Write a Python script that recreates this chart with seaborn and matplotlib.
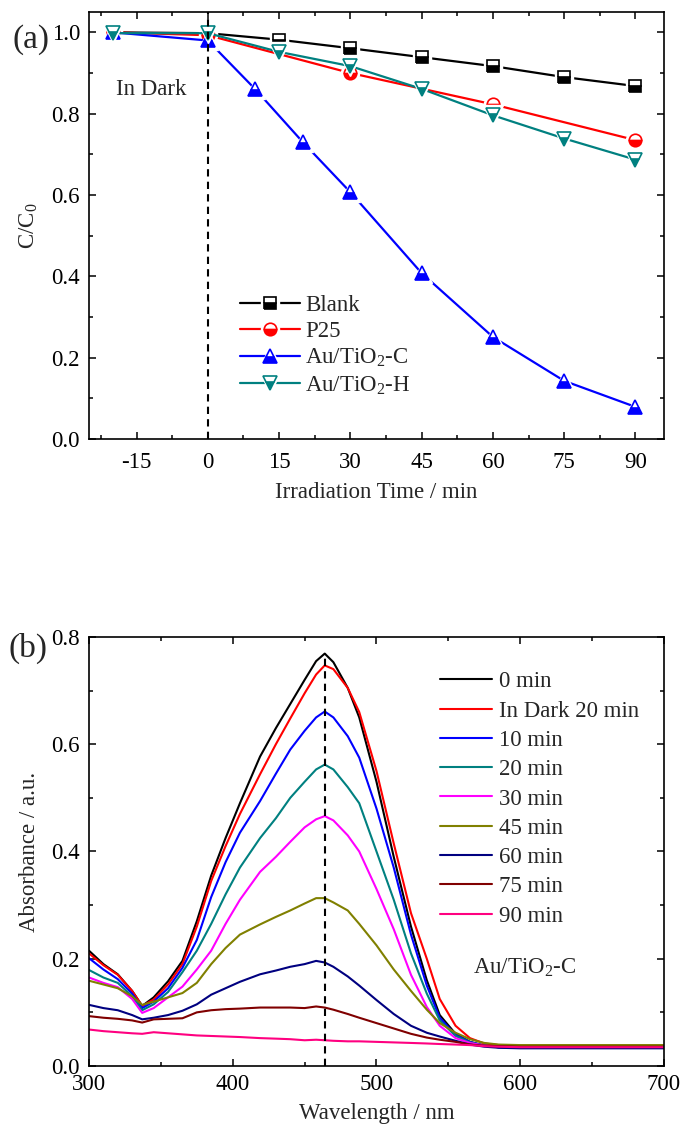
import matplotlib
matplotlib.use("Agg")
import matplotlib.pyplot as plt
import seaborn as sns
from matplotlib.lines import Line2D
from matplotlib.ticker import MultipleLocator

# Panel (a) - degradation over time
time_all = [-20, 0, 15, 30, 45, 60, 75, 90]
time_p25 = [-20, 0, 30, 60, 90]
time_auc = [-20, 0, 10, 20, 30, 45, 60, 75, 90]
blank = [1.0, 0.998, 0.982, 0.961, 0.939, 0.917, 0.890, 0.868]
p25 = [1.0, 0.993, 0.900, 0.823, 0.735]
au_c = [1.0, 0.980, 0.860, 0.730, 0.607, 0.408, 0.251, 0.143, 0.079]
au_h = [0.998, 0.998, 0.952, 0.917, 0.861, 0.796, 0.739, 0.687]
labels_a = ["Blank", "P25", "Au/TiO$_2$-C", "Au/TiO$_2$-H"]
x_ticks_a = [-15, 0, 15, 30, 45, 60, 75, 90]

# Panel (b) - absorbance spectra
wavelength = [300, 310, 320, 330, 337, 345, 355, 365, 375, 385, 395, 405, 419, 430, 440, 450, 458, 464,
              470, 480, 488, 500, 512, 524, 535, 544, 555, 565, 575, 585, 600, 650, 700]
abs_0 = [0.215, 0.19, 0.171, 0.14, 0.112, 0.128, 0.158, 0.196, 0.27, 0.355, 0.425, 0.49, 0.577, 0.63, 0.675, 0.72, 0.755, 0.769,
         0.753, 0.705, 0.65, 0.53, 0.39, 0.26, 0.16, 0.095, 0.06, 0.045, 0.038, 0.035, 0.034, 0.034, 0.034]
abs_dark = [0.21, 0.188, 0.17, 0.14, 0.112, 0.124, 0.152, 0.19, 0.26, 0.345, 0.41, 0.47, 0.544, 0.6, 0.648, 0.695, 0.73, 0.747,
            0.74, 0.705, 0.66, 0.55, 0.415, 0.285, 0.2, 0.125, 0.075, 0.052, 0.042, 0.039, 0.038, 0.038, 0.038]
abs_10 = [0.201, 0.18, 0.162, 0.135, 0.108, 0.12, 0.145, 0.183, 0.235, 0.315, 0.38, 0.435, 0.494, 0.545, 0.59, 0.625, 0.65, 0.661,
          0.65, 0.615, 0.575, 0.48, 0.37, 0.245, 0.15, 0.09, 0.058, 0.045, 0.038, 0.035, 0.034, 0.034, 0.034]
abs_20 = [0.179, 0.165, 0.155, 0.13, 0.104, 0.115, 0.138, 0.175, 0.215, 0.265, 0.32, 0.37, 0.425, 0.462, 0.5, 0.53, 0.553, 0.562,
          0.553, 0.52, 0.49, 0.4, 0.31, 0.21, 0.135, 0.085, 0.056, 0.044, 0.038, 0.036, 0.036, 0.036, 0.036]
abs_30 = [0.165, 0.155, 0.147, 0.125, 0.099, 0.108, 0.128, 0.148, 0.18, 0.215, 0.265, 0.31, 0.362, 0.39, 0.418, 0.445, 0.46, 0.466,
          0.458, 0.43, 0.4, 0.33, 0.255, 0.17, 0.11, 0.075, 0.052, 0.043, 0.038, 0.036, 0.035, 0.035, 0.035]
abs_45 = [0.159, 0.152, 0.145, 0.13, 0.114, 0.12, 0.128, 0.136, 0.155, 0.19, 0.22, 0.245, 0.264, 0.278, 0.29, 0.303, 0.313, 0.313,
          0.305, 0.29, 0.265, 0.225, 0.18, 0.14, 0.105, 0.08, 0.062, 0.05, 0.043, 0.04, 0.039, 0.039, 0.039]
abs_60 = [0.114, 0.108, 0.104, 0.095, 0.087, 0.09, 0.095, 0.103, 0.115, 0.133, 0.145, 0.157, 0.171, 0.178, 0.185, 0.19, 0.196, 0.193,
          0.185, 0.167, 0.15, 0.123, 0.097, 0.075, 0.062, 0.055, 0.047, 0.04, 0.036, 0.034, 0.033, 0.033, 0.033]
abs_75 = [0.093, 0.09, 0.088, 0.085, 0.081, 0.087, 0.088, 0.089, 0.1, 0.104, 0.106, 0.107, 0.109, 0.109, 0.109, 0.108, 0.111, 0.109,
          0.105, 0.097, 0.09, 0.08, 0.07, 0.06, 0.053, 0.049, 0.045, 0.04, 0.038, 0.037, 0.036, 0.036, 0.036]
abs_90 = [0.068, 0.065, 0.063, 0.061, 0.06, 0.063, 0.061, 0.059, 0.057, 0.056, 0.055, 0.054, 0.052, 0.051, 0.05, 0.048, 0.049, 0.048,
          0.047, 0.046, 0.046, 0.045, 0.044, 0.043, 0.042, 0.041, 0.04, 0.039, 0.037, 0.036, 0.035, 0.035, 0.035]
labels_b = ["0 min", "In Dark 20 min", "10 min", "20 min", "30 min", "45 min", "60 min", "75 min", "90 min"]
colors_b = ["#000000", "#FF0000", "#0000FF", "#008080", "#FF00FF", "#808000", "#000080", "#800000", "#FF0080"]

sns.set_theme(style="ticks")
plt.rcParams['font.family'] = ['Liberation Serif', 'DejaVu Serif']
plt.rcParams['mathtext.fontset'] = 'custom'
plt.rcParams['mathtext.rm'] = 'Liberation Serif'
plt.rcParams['mathtext.it'] = 'Liberation Serif:italic'
plt.rcParams['axes.unicode_minus'] = False

FS = 16.5

fig = plt.figure(figsize=(6.81, 11.24), dpi=100)
ax1 = fig.add_axes([0.1307, 0.6094, 0.8443, 0.3799])
ax2 = fig.add_axes([0.1307, 0.0516, 0.8443, 0.3817])


def style_axes(ax, xpad):
    for s in ax.spines.values():
        s.set_linewidth(1.2)
        s.set_color("black")
    ax.tick_params(which="both", direction="in", top=True, right=True,
                   width=1.1, colors="black", labelsize=FS)
    ax.tick_params(axis="y", pad=6.5)
    ax.tick_params(axis="x", pad=xpad)
    ax.tick_params(which="major", length=5)
    ax.tick_params(which="minor", length=3)


# Graph (a)
series = [
    (time_all, blank, "black", "s", 8.5),
    (time_p25, p25, "#FF0000", "o", 9),
    (time_auc, au_c, "#0000FF", "^", 10.5),
    (time_all, au_h, "#008080", "v", 10.5),
]
handles = []
for i, (x, y, c, m, ms) in enumerate(series):
    z = 2 + 3 * i
    sns.lineplot(x=x, y=y, color=c, lw=1.6, ax=ax1, zorder=z)
    ax1.plot(x, y, ls="none", marker=m, ms=ms + 4, mfc="white", mec="white", zorder=z + 1)
    ax1.plot(x, y, ls="none", marker=m, ms=ms, fillstyle="bottom", mfc=c,
             markerfacecoloralt="white", mec=c, mew=1.2, zorder=z + 2)
    h_line = Line2D([], [], color=c, lw=1.6)
    h_gap = Line2D([], [], ls="none", marker=m, ms=ms + 4, mfc="white", mec="white")
    h_mark = Line2D([], [], ls="none", marker=m, ms=ms, fillstyle="bottom", mfc=c,
                    markerfacecoloralt="white", mec=c, mew=1.2)
    handles.append((h_line, h_gap, h_mark))

ax1.axvline(0, color="black", lw=1.5, ls=(0, (3.5, 2.5)), zorder=30)
ax1.text(-19.3, 0.86, "In Dark", fontsize=FS, va="center", ha="left")

ax1.set_xlim(-25, 96)
ax1.set_ylim(0, 1.05)
ax1.set_xticks(x_ticks_a)
ax1.xaxis.set_minor_locator(MultipleLocator(7.5))
ax1.yaxis.set_major_locator(MultipleLocator(0.2))
ax1.yaxis.set_minor_locator(MultipleLocator(0.1))
ax1.yaxis.set_major_formatter(matplotlib.ticker.FormatStrFormatter("%.1f"))
style_axes(ax1, 9.5)
ax1.set_xlabel("Irradiation Time / min", fontsize=FS, labelpad=6)
ax1.set_ylabel("C/C$_0$", fontsize=FS)
ax1.yaxis.set_label_coords(-0.085, 0.5)
ax1.legend(handles, labels_a, loc="upper left", bbox_to_anchor=(0.263, 0.338),
           frameon=False, fontsize=FS, handlelength=2.6, handletextpad=0.22,
           labelspacing=0.22, borderpad=0, borderaxespad=0, numpoints=1)

# Graph (b)
spectra = [abs_0, abs_dark, abs_10, abs_20, abs_30, abs_45, abs_60, abs_75, abs_90]
for vals, c, lab in zip(spectra, colors_b, labels_b):
    sns.lineplot(x=wavelength, y=vals, color=c, lw=1.5, label=lab, ax=ax2)

ax2.vlines(464, 0, 0.77, colors="black", lw=1.5, linestyles=[(0, (3.5, 2.5))], zorder=30)
ax2.text(567, 0.183, "Au/TiO$_2$-C", fontsize=FS, va="center", ha="left")

ax2.set_xlim(300, 700)
ax2.set_ylim(0, 0.8)
ax2.xaxis.set_major_locator(MultipleLocator(100))
ax2.xaxis.set_minor_locator(MultipleLocator(50))
ax2.yaxis.set_major_locator(MultipleLocator(0.2))
ax2.yaxis.set_minor_locator(MultipleLocator(0.1))
ax2.yaxis.set_major_formatter(matplotlib.ticker.FormatStrFormatter("%.1f"))
style_axes(ax2, 5.5)
ax2.set_xlabel("Wavelength / nm", fontsize=FS, labelpad=6)
ax2.set_ylabel("Absorbance / a.u.", fontsize=FS)
ax2.yaxis.set_label_coords(-0.085, 0.5)
ax2.legend(loc="upper left", bbox_to_anchor=(0.61, 0.92), frameon=False, fontsize=FS,
           handlelength=2.3, handletextpad=0.3, labelspacing=0.36,
           borderpad=0, borderaxespad=0)

fig.text(0.018, 0.9644, "(a)", fontsize=24, va="center", ha="left")
fig.text(0.012, 0.4235, "(b)", fontsize=24, va="center", ha="left")

plt.savefig("out.png", dpi=100)
